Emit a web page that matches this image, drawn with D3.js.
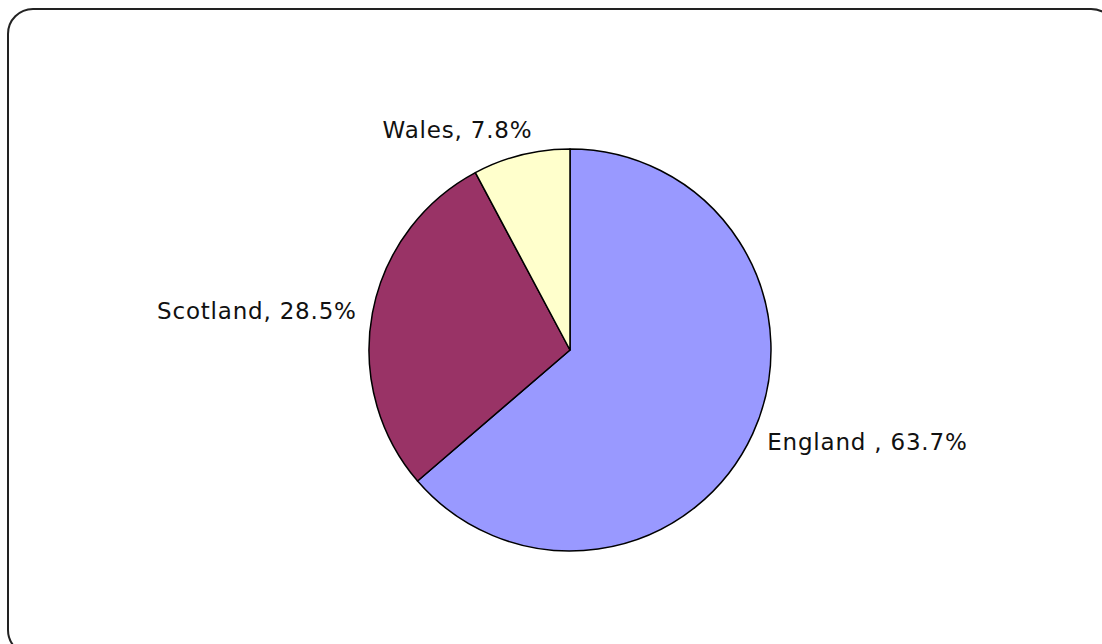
<!DOCTYPE html>
<html>
<head>
<meta charset="utf-8">
<script src="https://cdn.jsdelivr.net/npm/d3@7"></script>
<style>
  body { margin: 0; background: #fff; }
  svg { display: block; }
</style>
</head>
<body>
<div id="chart"></div>
<script>
const regions = ["England ", "Scotland", "Wales"];
const shares = [63.7, 28.5, 7.8];
const colors = ["#9999ff", "#993366", "#ffffcc"];

(function pie() {
  let width = 1102,
      height = 644,
      cx = 570,
      cy = 350,
      r = 201;

  const svg = d3.select("#chart")
    .append("svg")
    .attr("width", width)
    .attr("height", height);

  // chart area frame, runs off the right and bottom edge
  svg.append("rect")
    .attr("x", 8)
    .attr("y", 9)
    .attr("width", 1108)
    .attr("height", 646)
    .attr("rx", 25)
    .attr("fill", "none")
    .attr("stroke", "#222")
    .attr("stroke-width", 2);

  let data = regions.map((d, i) => ({ name: d, value: shares[i], color: colors[i] }));

  let arcs = d3.pie()
    .sort(null)
    .value(d => d.value)(data);

  let arc = d3.arc().innerRadius(0).outerRadius(r);

  let g = svg.append("g")
    .attr("transform", `translate(${cx},${cy})`);

  g.selectAll("path")
    .data(arcs)
    .join("path")
    .attr("d", arc)
    .attr("fill", d => d.data.color)
    .attr("stroke", "#000")
    .attr("stroke-width", 1.5)
    .attr("stroke-linejoin", "round");

  for (let a of arcs) {
    let mid = (a.startAngle + a.endAngle) / 2;
    let s = Math.sin(mid), c = Math.cos(mid);
    let x = (r + 16) * s, y = -(r + 16) * c + 9;
    let anchor = s > 0 ? "start" : "end";
    if (Math.abs(s) < 0.5) { x += 15; y -= 10; } // labels near the top sit above the slice
    g.append("text")
      .text(`${a.data.name}, ${a.data.value}%`)
      .attr("x", x)
      .attr("y", y)
      .attr("text-anchor", anchor)
      .attr("font-family", "DejaVu Sans, Verdana, sans-serif")
      .attr("font-size", 23)
      .attr("letter-spacing", 0.8)
      .attr("fill", "#111");
  }
})();
</script>
</body>
</html>
